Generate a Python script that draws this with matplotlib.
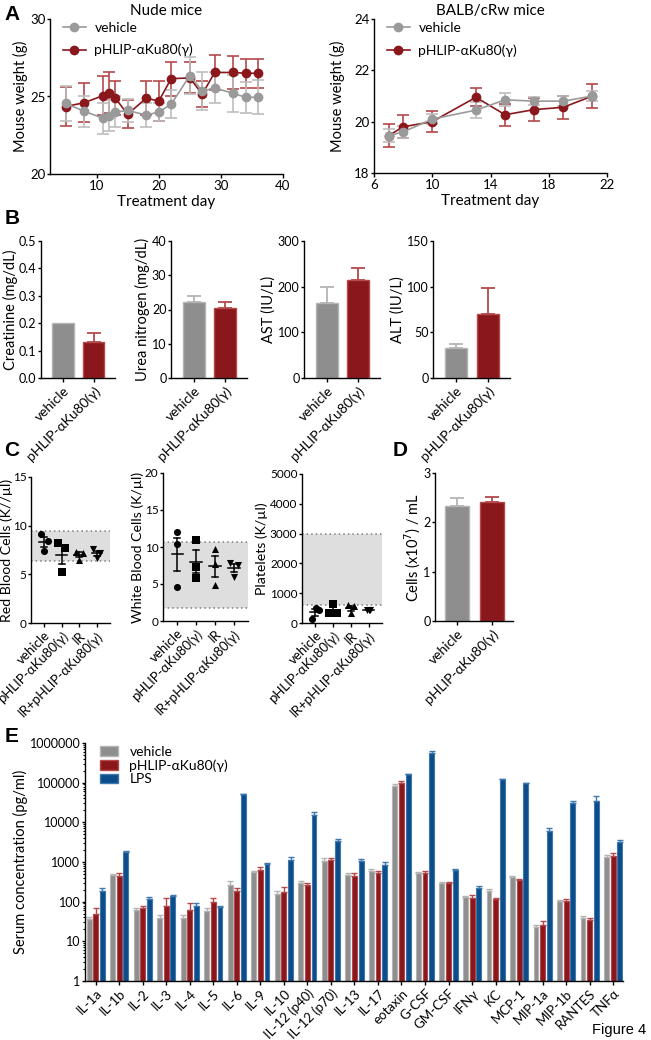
import numpy as np
import matplotlib
matplotlib.use('Agg')
import matplotlib.pyplot as plt
from matplotlib.lines import Line2D
from matplotlib.patches import Patch

plt.rcParams['font.family'] = ['Lato', 'DejaVu Sans']
plt.rcParams['font.size'] = 9
plt.rcParams['axes.linewidth'] = 1.0
plt.rcParams['xtick.major.width'] = 1.0
plt.rcParams['ytick.major.width'] = 1.0
plt.rcParams['xtick.major.size'] = 3
plt.rcParams['ytick.major.size'] = 2.5
plt.rcParams['xtick.major.pad'] = 1.5
plt.rcParams['ytick.major.pad'] = 0.8
plt.rcParams['xtick.labelsize'] = 9.5
plt.rcParams['ytick.labelsize'] = 9
plt.rcParams['axes.labelpad'] = 2

# ---- data ----
# panel A
nude_days = [5, 8, 11, 12, 13, 15, 18, 20, 22, 25, 27, 29, 32, 34, 36]
nude_veh = [24.55, 24.05, 23.6, 23.75, 24.0, 24.1, 23.8, 24.0, 24.5, 26.35, 25.35, 25.55, 25.2, 24.95, 24.95]
nude_veh_err = [1.1, 1.0, 1.0, 1.0, 1.0, 0.75, 0.8, 0.6, 0.9, 1.2, 1.2, 1.0, 1.2, 1.0, 1.1]
nude_phlip = [24.35, 24.6, 25.05, 25.25, 24.9, 23.85, 24.9, 24.7, 26.15, 26.2, 25.15, 26.55, 26.55, 26.5, 26.5]
nude_phlip_err = [1.25, 1.25, 1.25, 1.3, 1.1, 0.9, 1.1, 1.3, 1.1, 1.0, 0.85, 1.1, 1.05, 0.95, 0.95]

balb_days = [7, 8, 10, 13, 15, 17, 19, 21]
balb_veh = [19.45, 19.6, 20.1, 20.45, 20.85, 20.8, 20.8, 21.0]
balb_veh_err = [0.25, 0.25, 0.2, 0.3, 0.25, 0.15, 0.2, 0.2]
balb_phlip = [19.45, 19.8, 20.0, 20.95, 20.27, 20.47, 20.56, 21.0]
balb_phlip_err = [0.45, 0.45, 0.4, 0.35, 0.42, 0.45, 0.45, 0.45]

# panel B
two_groups = ['vehicle', 'pHLIP-αKu80(γ)']
chem_labels = ['Creatinine (mg/dL)', 'Urea nitrogen (mg/dL)', 'AST (IU/L)', 'ALT (IU/L)']
chem_means = [[0.2, 0.13], [22.2, 20.5], [165, 215], [33, 70]]
chem_errs = [[0, 0.035], [1.6, 1.6], [35, 25], [4, 28]]
chem_ticks = [[0.0, 0.1, 0.2, 0.3, 0.4, 0.5], [0, 10, 20, 30, 40], [0, 100, 200, 300], [0, 50, 100, 150]]

# panel C
cbc_groups = ['vehicle', 'pHLIP-αKu80(γ)', 'IR', 'IR+pHLIP-αKu80(γ)']
rbc = [[9.1, 8.4, 7.4], [8.2, 7.7, 5.2], [7.3, 7.2, 6.5], [7.6, 7.2, 6.7]]
wbc = [[12.0, 10.4, 4.6], [11.0, 7.3, 5.8], [9.7, 7.7, 4.8], [7.8, 7.6, 6.0]]
platelets = [[150, 500, 420], [630, 340, 340], [600, 560, 320], [440, 430, 425]]
rbc_range = [6.4, 9.45]
wbc_range = [1.8, 10.7]
plt_range = [600, 2980]

# panel D
cells_means = [2.33, 2.42]
cells_errs = [0.17, 0.09]

# panel E
cytokines = ['IL-1a', 'IL-1b', 'IL-2', 'IL-3', 'IL-4', 'IL-5', 'IL-6', 'IL-9', 'IL-10',
             'IL-12 (p40)', 'IL-12 (p70)', 'IL-13', 'IL-17', 'eotaxin', 'G-CSF', 'GM-CSF',
             'IFNγ', 'KC', 'MCP-1', 'MIP-1a', 'MIP-1b', 'RANTES', 'TNFα']
cyt_veh = [36, 467, 62, 39, 39, 58, 266, 553, 158, 293, 1090, 470, 595, 83000, 525, 290,
           129, 189, 420, 23.5, 101, 38, 1370]
cyt_phlip = [49, 450, 68, 80, 62, 99, 183, 620, 180, 260, 1110, 435, 530, 100000, 525, 290,
             125, 114, 358, 25.8, 102, 34, 1450]
cyt_lps = [187, 1760, 118, 135, 80, 73, 51500, 885, 1100, 15300, 3350, 1090, 825, 162000,
           575000, 625, 220, 122000, 96000, 6200, 31000, 35000, 3200]
cyt_veh_err = [6, 40, 8, 7, 7, 10, 70, 40, 25, 40, 150, 60, 70, 10000, 40, 20, 12, 25, 30,
               2, 10, 6, 120]
cyt_phlip_err = [22, 70, 10, 45, 30, 25, 35, 150, 50, 40, 150, 80, 80, 8000, 70, 30, 20, 12,
                 25, 6, 15, 5, 200]
cyt_lps_err = [40, 150, 15, 12, 10, 5, 0, 40, 200, 3000, 500, 80, 150, 0, 60000, 60, 25, 0,
               0, 1000, 3000, 10000, 300]

GRAY = '#8e8e8e'
GRAY_E = '#b4b4b4'
RED = '#8a171b'
RED_E = '#b4494c'
BLUE = '#0b4c8a'
BLUE_E = '#3f78ad'
MGRAY = '#9a9a9a'

W, H = 651, 1040
fig = plt.figure(figsize=(W / 100, H / 100), dpi=100)


def ax_at(x0, y0, x1, y1):
    ax = fig.add_axes([x0 / W, 1 - y1 / H, (x1 - x0) / W, (y1 - y0) / H])
    ax.spines['top'].set_visible(False)
    ax.spines['right'].set_visible(False)
    ax._box = (x0, x1)
    return ax


def ylabel_at(ax, text, px, size=10.5):
    # put the centre of the y label at pixel column px
    x0, x1 = ax._box
    ax.set_ylabel(text, fontsize=size, va='center')
    ax.yaxis.set_label_coords((px - x0) / (x1 - x0), 0.5)


# ---- A ----
def weight_panel(ax, days, veh, veh_err, ph, ph_err, label_px):
    ax.errorbar(days, ph, yerr=ph_err, color=RED, ecolor=RED_E, marker='o', ms=6,
                lw=1.2, elinewidth=1.2, capsize=4, capthick=1.2)
    ax.errorbar(days, veh, yerr=veh_err, color=MGRAY, ecolor='#bdbdbd', marker='o', ms=6,
                lw=1.2, elinewidth=1.2, capsize=4, capthick=1.2)
    handles = [Line2D([], [], color=MGRAY, marker='o', ms=6, lw=1.2),
               Line2D([], [], color=RED, marker='o', ms=6, lw=1.2)]
    ax.legend(handles, two_groups, loc='upper left', bbox_to_anchor=(0.0, 1.06), frameon=False,
              fontsize=10, handlelength=1.7, handletextpad=0.6, labelspacing=0.7)
    ylabel_at(ax, 'Mouse weight (g)', label_px)
    ax.set_xlabel('Treatment day', fontsize=11)
    ax.tick_params(labelsize=9.5)


axA1 = ax_at(50, 19, 283, 174)
weight_panel(axA1, nude_days, nude_veh, nude_veh_err, nude_phlip, nude_phlip_err, 20)
axA1.set_xlim(2.5, 40)
axA1.set_ylim(20, 30)
axA1.set_xticks([10, 20, 30, 40])
axA1.set_yticks([20, 25, 30])
axA1.set_title('Nude mice', fontsize=11, pad=3)

axA2 = ax_at(374, 19, 607, 173)
weight_panel(axA2, balb_days, balb_veh, balb_veh_err, balb_phlip, balb_phlip_err, 337)
axA2.set_xlim(6, 22)
axA2.set_ylim(18, 24)
axA2.set_xticks([6, 10, 14, 18, 22])
axA2.set_yticks([18, 20, 22, 24])
axA2.set_title('BALB/cRw mice', fontsize=11, pad=3)


# ---- B and D ----
def two_bar_panel(ax, means, errs, ylabel, ticks, xlim, label_px):
    x = np.arange(2)
    ax.bar(x, means, width=0.7, color=[GRAY, RED], edgecolor=[GRAY_E, RED_E], lw=1)
    for xi, m, e, c in zip(x, means, errs, [GRAY_E, RED_E]):
        if e > 0:
            ax.errorbar(xi, m, yerr=[[0], [e]], color=c, capsize=5, elinewidth=1.3, capthick=1.3)
    ax.set_xlim(*xlim)
    ax.set_ylim(ticks[0], ticks[-1])
    ax.set_yticks(ticks)
    ax.set_xticks(x)
    ax.set_xticklabels(two_groups, rotation=45, ha='right', rotation_mode='anchor', fontsize=10)
    ylabel_at(ax, ylabel, label_px)


b_boxes = [(41, 115), (171, 247), (304, 380), (433, 510)]
b_label_px = [10, 142, 269, 398]
for (x0, x1), m, e, lab, t, lp in zip(b_boxes, chem_means, chem_errs, chem_labels, chem_ticks, b_label_px):
    ax = ax_at(x0, 241, x1, 378)
    two_bar_panel(ax, m, e, lab, t, (-0.72, 1.7), lp)
    if t[-1] < 1:
        ax.set_yticklabels([f'{v:.1f}' for v in t])

axD = ax_at(435, 473, 513, 621)
two_bar_panel(axD, cells_means, cells_errs, 'Cells (x10$^7$) / mL', [0, 1, 2, 3], (-0.64, 1.62), 413)


# ---- C ----
markers = ['o', 's', '^', 'v']


def cbc_panel(ax, groups_vals, rng, jitter, ylabel, ticks, label_px):
    ax.axhspan(rng[0], rng[1], color='#dedede', lw=0, zorder=0)
    for yv in rng:
        ax.axhline(yv, color='#808080', ls=(0, (1, 2)), lw=1.1, zorder=1)
    for i, vals in enumerate(groups_vals):
        vals = np.array(vals)
        ax.scatter(i + np.array(jitter[i]), vals, marker=markers[i], s=26, color='black',
                   zorder=3, linewidths=0)
        m = vals.mean()
        sem = vals.std(ddof=1) / np.sqrt(len(vals))
        ax.plot([i - 0.3, i + 0.3], [m, m], color='black', lw=1.1, zorder=4)
        ax.plot([i, i], [m - sem, m + sem], color='black', lw=1.1, zorder=4)
        for yv in (m - sem, m + sem):
            ax.plot([i - 0.17, i + 0.17], [yv, yv], color='black', lw=1.1, zorder=4)
    ax.set_xlim(-0.75, 3.75)
    ax.set_ylim(ticks[0], ticks[-1])
    ax.set_yticks(ticks)
    ax.set_xticks(range(4))
    ax.set_xticklabels(cbc_groups, rotation=45, ha='right', rotation_mode='anchor', fontsize=9.5)
    ax.tick_params(axis='y', labelsize=8.5)
    ylabel_at(ax, ylabel, label_px, size=10.2)


axC1 = ax_at(31, 477, 110, 623)
cbc_panel(axC1, rbc, rbc_range, [[-0.2, 0.2, 0], [-0.2, 0.2, 0], [-0.2, 0.2, 0], [-0.2, 0.2, 0]],
          'Red Blood Cells (K//µl)', [0, 5, 10, 15], 7)
axC2 = ax_at(163, 473, 248, 621)
cbc_panel(axC2, wbc, wbc_range, [[0, 0, 0], [0, 0, 0], [0, 0, 0], [-0.2, 0.2, 0]],
          'White Blood Cells (K/µl)', [0, 5, 10, 15, 20], 138)
axC3 = ax_at(302, 474, 382, 623)
cbc_panel(axC3, platelets, plt_range, [[-0.2, 0.05, 0.2], [0.0, -0.22, 0.22], [-0.15, 0.15, 0], [-0.1, 0.0, 0.1]],
          'Platelets (K/µl)', [0, 1000, 2000, 3000, 4000, 5000], 262)


# ---- E ----
axE = ax_at(85, 743, 623, 981)
xc = np.arange(len(cytokines))
off = 0.28
bw = 0.21
for k, (vals, errs, col, ecol, lab) in enumerate([
        (cyt_veh, cyt_veh_err, GRAY, GRAY_E, 'vehicle'),
        (cyt_phlip, cyt_phlip_err, RED, RED_E, 'pHLIP-αKu80(γ)'),
        (cyt_lps, cyt_lps_err, BLUE, BLUE_E, 'LPS')]):
    xs = xc + (k - 1) * off
    axE.bar(xs, vals, width=bw, color=col, edgecolor=ecol, lw=0.8, label=lab)
    axE.errorbar(xs, vals, yerr=[np.zeros(len(vals)), errs], fmt='none', ecolor=ecol,
                 elinewidth=1.0, capsize=2, capthick=1.0)
axE.set_yscale('log')
axE.set_ylim(1, 1e6)
axE.set_xlim(-0.46, 22.42)
axE.set_yticks([1, 10, 100, 1000, 10000, 100000, 1000000])
axE.set_yticklabels(['1', '10', '100', '1000', '10000', '100000', '1000000'])
axE.tick_params(axis='y', which='minor', length=1.8, width=0.8)
axE.set_xticks(xc)
axE.set_xticklabels(cytokines, rotation=45, ha='right', rotation_mode='anchor', fontsize=9.5)
ylabel_at(axE, 'Serum concentration (pg/ml)', 20)
legE = [Patch(facecolor=GRAY, edgecolor=GRAY_E), Patch(facecolor=RED, edgecolor=RED_E),
        Patch(facecolor=BLUE, edgecolor=BLUE_E)]
axE.legend(legE, ['vehicle', 'pHLIP-αKu80(γ)', 'LPS'], loc='upper left', bbox_to_anchor=(0.005, 1.04),
           frameon=False, fontsize=10, handlelength=1.3, handleheight=0.7, labelspacing=0.1)

# panel letters
for letter, x, y in [('A', 12, 14), ('B', 12, 218), ('C', 12, 450), ('D', 400, 450), ('E', 12, 737)]:
    fig.text(x / W, 1 - y / H, letter, fontsize=15, fontweight='bold', ha='center', va='center',
             family=['Liberation Sans', 'DejaVu Sans'])
fig.text(646 / W, 1 - 1030 / H, 'Figure 4', fontsize=10.5, ha='right', va='center',
         family=['Liberation Sans', 'DejaVu Sans'])

fig.savefig('out.png', dpi=100)
